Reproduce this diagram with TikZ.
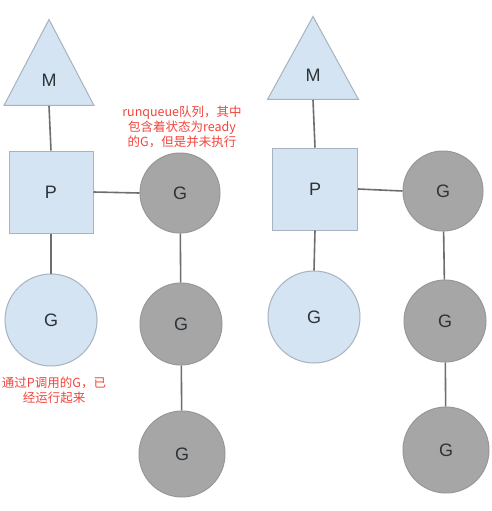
\documentclass[tikz,border=0pt]{standalone}
\usepackage{fontspec}
\setmainfont{Liberation Sans}
\newfontfamily\cjk{Noto Sans CJK SC}
\usetikzlibrary{shapes.geometric}
\definecolor{gmblue}{HTML}{D4E4F2}
\definecolor{gmblueln}{HTML}{A7B3BE}
\definecolor{gmgray}{HTML}{A6A6A6}
\definecolor{gmgrayln}{HTML}{979797}
\definecolor{gmink}{HTML}{2E3338}
\definecolor{gmwire}{HTML}{6E6E6E}
\definecolor{gmred}{HTML}{F2453D}
\tikzset{
  bx/.style={inner sep=0pt, font=\fontsize{18}{20}\selectfont, text=gmink, line width=1pt},
  tri/.style={bx, isosceles triangle, shape border rotate=90, isosceles triangle stretches, draw=gmblueln, fill=gmblue, anchor=south},
  sq/.style={bx, rectangle, draw=gmblueln, fill=gmblue, minimum width=84pt, minimum height=82pt},
  gb/.style={bx, circle, draw=gmblueln, fill=gmblue, minimum size=92pt},
  gg/.style={bx, circle, draw=gmgrayln, fill=gmgray},
  lnk/.style={line width=1.6pt, color=gmwire},
  note/.style={font=\cjk\fontsize{12.5}{15}\selectfont, text=gmred, align=center, inner sep=0pt},
}
\begin{document}
\begin{tikzpicture}[x=1pt, y=-1pt]
    \useasboundingbox[fill=white] (0,0) rectangle (491,511);
    % left: P running a G, with its runqueue
    \node[tri, minimum width=90pt, minimum height=86pt] (lm) at (49,106) {M};
    \node[sq] (lp) at (51,192) {P};
    \node[gb] (lgr) at (51,320) {G};
    \node[gg, minimum size=80pt] (lq1) at (180,193) {G};
    \node[gg, minimum size=82pt] (lq2) at (181,324) {G};
    \node[gg, minimum size=86pt] (lq3) at (182,454) {G};
    \draw[lnk] (lm.south) -- (lp.north);
    \draw[lnk] (lp.south) -- (lgr.north);
    \draw[lnk] (lp.east) -- (lq1.west);
    \draw[lnk] (lq1) -- (lq2);
    \draw[lnk] (lq2) -- (lq3);
    \node[note] (runq) at (182,127) {runqueue队列，其中\\包含着状态为ready\\的G，但是并未执行};
    \node[note] (running) at (54,390) {通过P调用的G，已\\经运行起来};
    % right: same setup, no notes
    \node[tri, minimum width=91pt, minimum height=83pt] (rm) at (313,100) {M};
    \node[sq, minimum width=85pt] (rp) at (315,189) {P};
    \node[gb] (rgr) at (314,317) {G};
    \node[gg, minimum size=80pt] (rq1) at (443,191) {G};
    \node[gg, minimum size=82pt] (rq2) at (445,321) {G};
    \node[gg, minimum size=86pt] (rq3) at (446,450) {G};
    \draw[lnk] (rm.south) -- (rp.north);
    \draw[lnk] (rp.south) -- (rgr.north);
    \draw[lnk] (rp.east) -- (rq1.west);
    \draw[lnk] (rq1) -- (rq2);
    \draw[lnk] (rq2) -- (rq3);
  \end{tikzpicture}
\end{document}
